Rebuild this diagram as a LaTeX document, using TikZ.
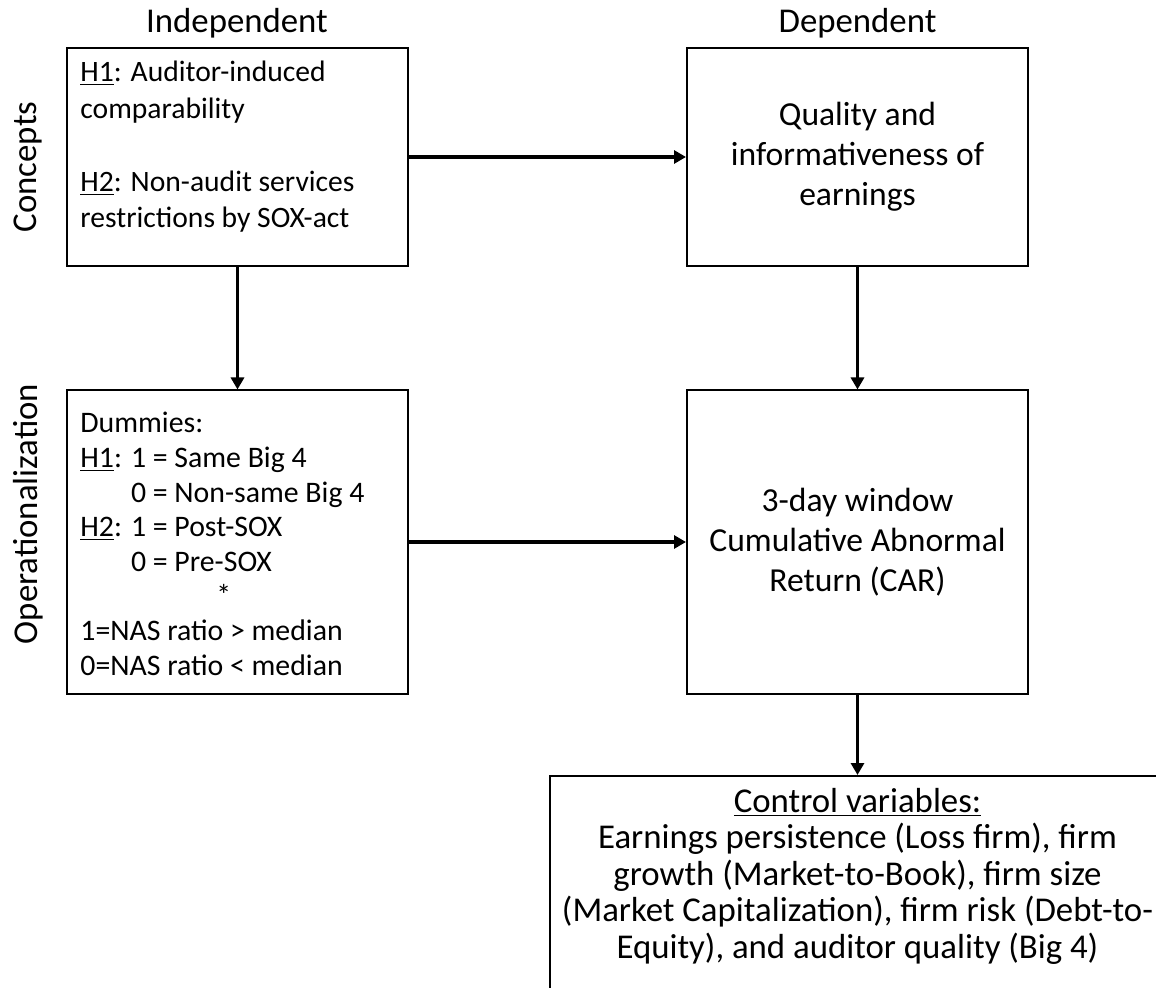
\documentclass[tikz,border=0pt]{standalone}
\usepackage{fontspec}
\setmainfont{Carlito}
\usetikzlibrary{arrows.meta}
\begin{document}
\begin{tikzpicture}[x=0.5pt,y=-0.5pt,font=\fontsize{17.4pt}{18.25pt}\selectfont,
				box/.style={draw,line width=1pt,minimum width=170.5pt,inner sep=0pt},
				txt/.style={anchor=base west,inner sep=0pt,text width=160pt,align=flush left},
				arr/.style={-{Triangle[length=6pt,width=6.5pt]},line width=1.8pt}]
				\useasboundingbox (0,0) rectangle (1156,988);
				\node[anchor=base] (indep) at (237,33) {Independent};
				\node[anchor=base] (dep) at (857.5,33) {Dependent};
				\node[rotate=90] (conc) at (28,167) {Concepts};
				\node[rotate=90] (oper) at (28,514) {Operationalization};
				\node[box,minimum height=109pt] (hyp) at (237.5,157) {};
				\node[txt,font=\fontsize{14.8pt}{18.2pt}\selectfont] (hyptext) at (80,82) {\underline{H1}: Auditor-induced\\comparability\\[18.2pt]\underline{H2}: Non-audit services\\restrictions by SOX-act};
				\node[box,minimum height=109pt,align=center,font=\fontsize{16.8pt}{20pt}\selectfont] (qual) at (857.5,157) {Quality and\\informativeness of\\earnings};
				\node[box,minimum height=151.5pt] (dum) at (237.5,542) {};
				\node[txt,font=\fontsize{14.9pt}{17.3pt}\selectfont] (dumtext) at (80,433) {Dummies:\\\underline{H1}: 1 = Same Big 4\\\hphantom{\underline{H1}: }0 = Non-same Big 4\\\underline{H2}: 1 = Post-SOX\\\hphantom{\underline{H2}: }0 = Pre-SOX\\\hspace*{68pt}*\\1=NAS ratio > median\\0=NAS ratio < median};
				\node[box,minimum height=151.5pt,align=center,font=\fontsize{16.8pt}{20pt}\selectfont] (car) at (857.5,542) {3-day window\\Cumulative Abnormal\\Return (CAR)};
				\node[box,minimum width=307.5pt,minimum height=130pt,anchor=north] (ctrl) at (857.5,775) {};
				\node[anchor=base,inner sep=0pt,text width=306pt,align=flush center] (ctrltext) at (857.5,812) {\underline{Control variables:}\\Earnings persistence (Loss firm), firm\\growth (Market-to-Book), firm size\\(Market Capitalization), firm risk (Debt-to-\\Equity), and auditor quality (Big 4)};
				\draw[arr] (hyp) -- (qual);
				\draw[arr] (dum) -- (car);
				\draw[arr] (hyp) -- (dum);
				\draw[arr] (qual) -- (car);
				\draw[arr] (car) -- (ctrl);
			\end{tikzpicture}
\end{document}
